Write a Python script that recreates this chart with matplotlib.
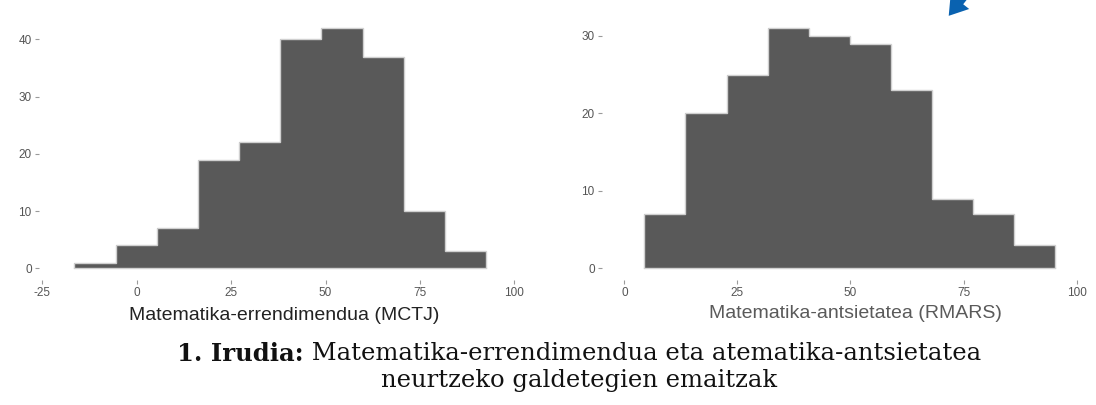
import numpy as np
import matplotlib
matplotlib.use("Agg")
import matplotlib.pyplot as plt

# ---- data ----
left_edges = [-16.5, -5.6, 5.3, 16.2, 27.1, 38.0, 48.9, 59.8, 70.7, 81.6, 92.5]
left_counts = [1, 4, 7, 19, 22, 40, 42, 37, 10, 3]
right_edges = [4.4, 13.5, 22.6, 31.7, 40.8, 49.9, 59.0, 68.0, 77.1, 86.2, 95.3]
right_counts = [7, 20, 25, 31, 30, 29, 23, 9, 7, 3]

left_xticks = [-25, 0, 25, 50, 75, 100]
left_yticks = [0, 10, 20, 30, 40]
right_xticks = [0, 25, 50, 75, 100]
right_yticks = [0, 10, 20, 30]

left_title = "Matematika-errendimendua (MCTJ)"
right_title = "Matematika-antsietatea (RMARS)"
caption_bold = "1. Irudia:"
caption_rest = " Matematika-errendimendua eta atematika-antsietatea"
caption_line2 = "neurtzeko galdetegien emaitzak"

W, H = 1096, 405
fig = plt.figure(figsize=(W / 100, H / 100), dpi=100)
fig.patch.set_facecolor("white")

def px_axes(x0, x1, ytop, ybot):
    return fig.add_axes([x0 / W, 1 - ybot / H, (x1 - x0) / W, (ybot - ytop) / H])

tick_col = "#555555"

def style(ax, xticks, yticks):
    for s in ax.spines.values():
        s.set_visible(False)
    ax.set_xticks(xticks)
    ax.set_yticks(yticks)
    ax.set_xticklabels([str(t) for t in xticks])
    ax.tick_params(axis="both", colors="#9a9a9a", labelcolor=tick_col, length=3,
                   width=0.8, labelsize=8.5, pad=2)
    for lab in ax.get_xticklabels() + ax.get_yticklabels():
        lab.set_family("Liberation Sans")
    ax.set_facecolor("white")

def draw_hist(ax, edges, counts):
    e = np.asarray(edges, dtype=float)
    ax.bar(e[:-1], counts, width=np.diff(e), align="edge", color="#595959",
           edgecolor="none", linewidth=0)
    ax.stairs(counts, e, baseline=0, fill=False, color="#d0d0d0", linewidth=1.0)
    ax.plot([e[0], e[-1]], [0, 0], color="#d0d0d0", linewidth=1.0)

# left panel
axL = px_axes(38.6, 537.0, 16.0, 280.3)
draw_hist(axL, left_edges, left_counts)
axL.set_xlim(-26, 106)
axL.set_ylim(-2.1, 44.1)
style(axL, left_xticks, left_yticks)

# right panel
axR = px_axes(601.7, 1099.3, 16.0, 280.3)
draw_hist(axR, right_edges, right_counts)
axR.set_xlim(-5, 105)
axR.set_ylim(-1.55, 32.55)
style(axR, right_xticks, right_yticks)

# axis titles
fig.text(284.5 / W, 1 - 316 / H, left_title, ha="center", va="center",
         fontsize=14, color="#222222", family="Liberation Sans")
fig.text(855 / W, 1 - 313 / H, right_title, ha="center", va="center",
         fontsize=14, color="#5a5a5a", family="Liberation Sans")

# caption
fig.canvas.draw()
r = fig.canvas.get_renderer()
cx = 579 / W
t1 = fig.text(0, 1 - 354 / H, caption_bold, ha="left", va="center", fontsize=17.5,
              fontweight="bold", family="DejaVu Serif", color="#111111")
t2 = fig.text(0, 1 - 354 / H, caption_rest, ha="left", va="center", fontsize=17.5,
              family="DejaVu Serif", color="#111111")
w1 = t1.get_window_extent(r).width / W
w2 = t2.get_window_extent(r).width / W
x0 = cx - (w1 + w2) / 2
t1.set_x(x0)
t2.set_x(x0 + w1)
fig.text(cx, 1 - 381 / H, caption_line2, ha="center", va="center", fontsize=17.5,
         family="DejaVu Serif", color="#111111")

# blue arrow at the top
fig.add_artist(matplotlib.patches.FancyArrowPatch(
    (966 / W, 1 + 6 / H), (947 / W, 1 - 18 / H), transform=fig.transFigure,
    arrowstyle="simple,head_width=1.7,head_length=1.3,tail_width=0.6",
    mutation_scale=10, color="#0a62b0", lw=0))

fig.savefig("out.png", dpi=100)
